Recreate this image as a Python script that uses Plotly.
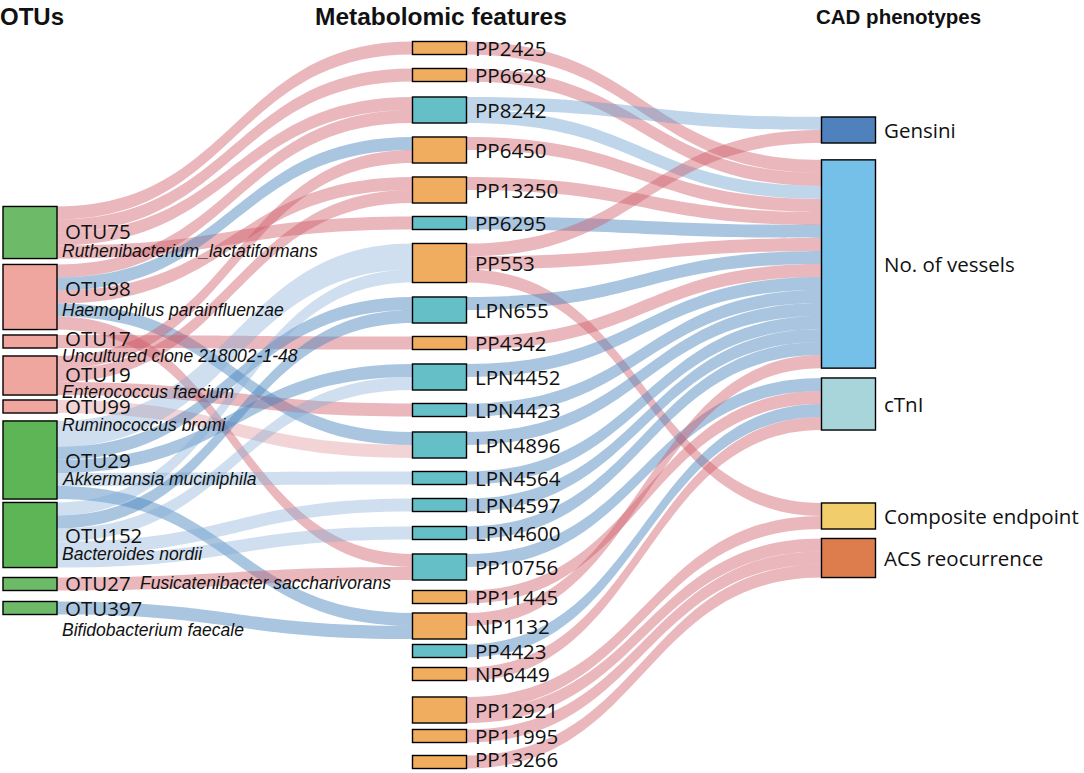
import plotly.graph_objects as go

# ---------------- data ----------------
otu_ids = ["OTU75", "OTU98", "OTU17", "OTU19", "OTU99", "OTU29", "OTU152", "OTU27", "OTU397"]
otu_species = ["Ruthenibacterium_lactatiformans", "Haemophilus parainfluenzae",
               "Uncultured clone 218002-1-48", "Enterococcus faecium", "Ruminococcus bromi",
               "Akkermansia muciniphila", "Bacteroides nordii", "Fusicatenibacter saccharivorans",
               "Bifidobacterium faecale"]
otu_group = ["green", "pink", "pink", "pink", "pink", "green2", "green2", "green", "green"]

metabolites = ["PP2425", "PP6628", "PP8242", "PP6450", "PP13250", "PP6295", "PP553", "LPN655",
               "PP4342", "LPN4452", "LPN4423", "LPN4896", "LPN4564", "LPN4597", "LPN4600",
               "PP10756", "PP11445", "NP1132", "PP4423", "NP6449", "PP12921", "PP11995", "PP13266"]
met_class = ["pos", "pos", "neg", "pos", "pos", "neg", "pos", "neg",
             "pos", "neg", "neg", "neg", "neg", "neg", "neg",
             "neg", "pos", "pos", "neg", "pos", "pos", "pos", "pos"]

phenotypes = ["Gensini", "No. of vessels", "cTnI", "Composite endpoint", "ACS reocurrence"]

# OTU -> metabolite associations
om_source = ["OTU75", "OTU75", "OTU75", "OTU75",
             "OTU98", "OTU98", "OTU98", "OTU98", "OTU98",
             "OTU17",
             "OTU19", "OTU19", "OTU19",
             "OTU99",
             "OTU29", "OTU29", "OTU29", "OTU29", "OTU29",
             "OTU152", "OTU152", "OTU152", "OTU152", "OTU152",
             "OTU27", "OTU397"]
om_target = ["PP2425", "PP6628", "PP8242", "PP6295",
             "PP8242", "PP6450", "PP13250", "LPN4896", "PP10756",
             "PP4342",
             "PP6450", "PP13250", "LPN4423",
             "LPN4896",
             "PP553", "LPN655", "LPN4452", "LPN4564", "NP1132",
             "PP553", "LPN655", "LPN4452", "LPN4597", "LPN4600",
             "PP10756", "NP1132"]
om_value = [1, 1, 1, 1,
            1, 1, 1, 1, 1,
            1,
            1, 1, 1,
            1,
            2, 1, 1, 1, 1,
            1, 1, 1, 1, 1,
            1, 1]
om_type = ["pos", "pos", "pos", "pos",
           "pos", "neg", "pos", "neg", "pos",
           "pos",
           "pos", "pos", "pos",
           "pos_weak",
           "neg_weak", "neg", "neg", "neg_weak", "neg",
           "neg_weak", "neg", "neg_weak", "neg_weak", "neg_weak",
           "pos", "neg"]

# metabolite -> CAD phenotype associations
mp_source = ["PP2425", "PP6628", "PP8242", "PP8242", "PP6450", "PP13250", "PP6295",
             "PP553", "PP553", "PP553", "LPN655", "PP4342", "LPN4452", "LPN4423",
             "LPN4896", "LPN4564", "LPN4597", "LPN4600", "PP10756", "PP11445",
             "NP1132", "PP4423", "NP6449", "PP12921", "PP12921", "PP11995", "PP13266"]
mp_target = ["No. of vessels", "No. of vessels", "Gensini", "No. of vessels", "No. of vessels",
             "No. of vessels", "No. of vessels",
             "Gensini", "No. of vessels", "Composite endpoint", "No. of vessels", "No. of vessels",
             "No. of vessels", "No. of vessels",
             "No. of vessels", "No. of vessels", "No. of vessels", "No. of vessels", "cTnI", "cTnI",
             "No. of vessels", "cTnI", "cTnI", "Composite endpoint", "ACS reocurrence",
             "ACS reocurrence", "ACS reocurrence"]
mp_value = [1] * 27
mp_type = ["pos", "pos", "neg_light", "neg_light", "pos", "pos", "neg",
           "pos", "pos", "pos", "neg", "pos", "neg", "neg",
           "neg", "neg", "neg", "neg", "neg", "pos",
           "pos", "neg", "pos", "pos", "pos", "pos", "pos"]

# ---------------- layout / style ----------------
W, H = 1084, 773
col_x_px = [30, 439.5, 848.5]
otu_y_px = [232.5, 297, 341.5, 375.5, 406.5, 460, 535, 584, 608]
met_y_px = [48, 75, 110, 150, 190, 223, 263, 310, 343, 377, 410, 445, 478, 505, 533,
            567, 597, 626, 651, 674, 710, 736, 762]
phen_y_px = [130, 264, 404, 516, 558]

otu_fill = {"green": "#6dbb69", "green2": "#5db556", "pink": "#eea69e"}
otu_line = {"green": "#44633f", "green2": "#3f5a3c", "pink": "#aa9c98"}
met_fill = {"pos": "#f1ad5f", "neg": "#64bfc7"}
met_line = {"pos": "#80613f", "neg": "#446d72"}
phen_fill = ["#4f81bd", "#74c0e8", "#a8d5da", "#f1cd6b", "#dd7d4d"]
phen_line = ["#7a775c", "#3484a3", "#66858a", "#cbd27a", "#f1a27f"]
link_colors = {"pos": "rgba(205,92,102,0.44)", "pos_weak": "rgba(215,120,130,0.32)",
               "neg": "rgba(75,133,191,0.48)", "neg_weak": "rgba(130,170,212,0.38)",
               "neg_light": "rgba(99,155,204,0.42)"}

labels = otu_ids + metabolites + phenotypes
idx = {n: i for i, n in enumerate(labels)}

node_color = [otu_fill[g] for g in otu_group] + [met_fill[c] for c in met_class] + phen_fill
node_line = [otu_line[g] for g in otu_group] + [met_line[c] for c in met_class] + phen_line
node_x = ([col_x_px[0] / W] * len(otu_ids) + [col_x_px[1] / W] * len(metabolites)
          + [col_x_px[2] / W] * len(phenotypes))
node_y = [y / H for y in otu_y_px + met_y_px + phen_y_px]

src = [idx[s] for s in om_source + mp_source]
tgt = [idx[t] for t in om_target + mp_target]
val = om_value + mp_value
lcol = [link_colors[t] for t in om_type + mp_type]

fig = go.Figure(go.Sankey(
    arrangement="fixed",
    domain=dict(x=[0, 1], y=[0, 1]),
    node=dict(label=[""] * len(labels), customdata=labels, hovertemplate="%{customdata}<extra></extra>",
              x=node_x, y=node_y, pad=23.6, thickness=54,
              color=node_color, line=dict(color=node_line, width=1.4)),
    link=dict(source=src, target=tgt, value=val, color=lcol, hoverinfo="none"),
))

ann = []
lab_font = dict(family="Open Sans, Noto Sans, sans-serif", size=20.5, color="#111")
otu_font = dict(lab_font, size=20.5)
ital_font = dict(family="Liberation Sans, Arial, sans-serif", size=17.5, color="#111")

otu_label_y = [231, 288, 338, 374, 406, 460, 535, 583, 608]
otu_species_y = [251, 310, 356, 392, 425, 479, 554, 583, 630]
for i, name in enumerate(otu_ids):
    ann.append(dict(x=63 / W, y=1 - otu_label_y[i] / H, text=name, font=otu_font,
                    xanchor="left", yanchor="middle"))
    sx = 138 if otu_species_y[i] == otu_label_y[i] else 60
    ann.append(dict(x=sx / W, y=1 - otu_species_y[i] / H, text="<i>%s</i>" % otu_species[i],
                    font=ital_font, xanchor="left", yanchor="middle"))
met_label_y = met_y_px[:-1] + [met_y_px[-1] - 3]
for i, name in enumerate(metabolites):
    ann.append(dict(x=473 / W, y=1 - met_label_y[i] / H, text=name, font=lab_font,
                    xanchor="left", yanchor="middle"))
for i, name in enumerate(phenotypes):
    ann.append(dict(x=882 / W, y=1 - phen_y_px[i] / H, text=name, font=lab_font,
                    xanchor="left", yanchor="middle"))

title_font = dict(family="Liberation Sans, Arial, sans-serif", size=21, color="#111")
ann.append(dict(x=-2 / W, y=1 - 17 / H, text="<b>OTUs</b>", font=dict(title_font, size=24),
                xanchor="left", yanchor="middle"))
ann.append(dict(x=441 / W, y=1 - 16 / H, text="<b>Metabolomic features</b>", font=dict(title_font, size=24.5),
                xanchor="center", yanchor="middle"))
ann.append(dict(x=898 / W, y=1 - 16 / H, text="<b>CAD phenotypes</b>", font=dict(title_font, size=20.5),
                xanchor="center", yanchor="middle"))
for a in ann:
    a.update(xref="paper", yref="paper", showarrow=False)

fig.update_layout(width=W, height=H, margin=dict(l=0, r=0, t=0, b=0),
                  paper_bgcolor="white", plot_bgcolor="white", annotations=ann)
fig.write_html("out.html", config={"displayModeBar": False},
               post_script="document.body.style.margin='0px';")
